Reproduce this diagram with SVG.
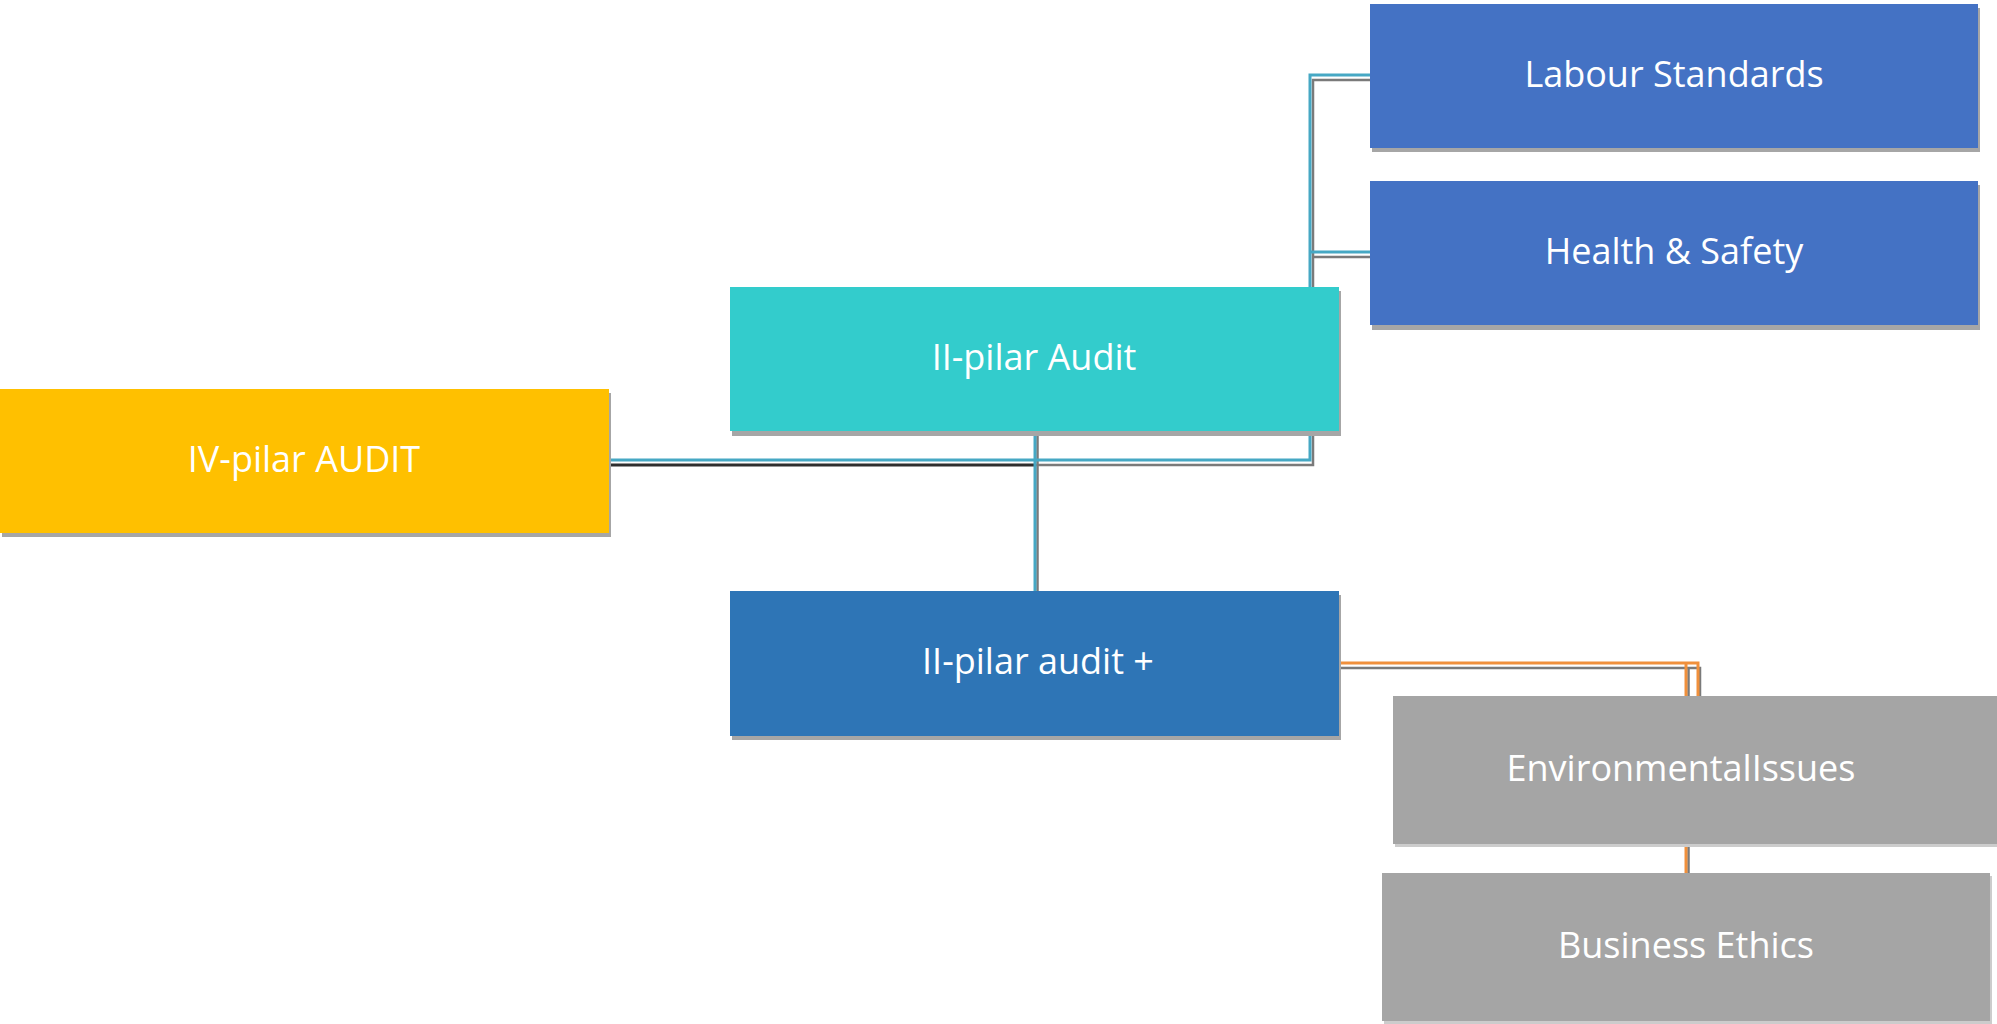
<svg xmlns="http://www.w3.org/2000/svg" width="1997" height="1024" viewBox="0 0 1997 1024">
<style>
.lbl{font-family:"Open Sans","Liberation Sans",sans-serif;font-size:36px;fill:#ffffff;text-anchor:middle}
.sh{fill:#a6a6a6}
.shg{fill:#cccccc}
.ln{fill:none;stroke-width:3}
.teal{stroke:#46a8c4}
.org{stroke:#f0903c}
.lsh{fill:none;stroke-width:2.5;stroke:#7a7a7a}
.lshd{fill:none;stroke-width:3;stroke:#2e2e2e}
</style>
<rect width="1997" height="1024" fill="#ffffff"/>
<g id="connectors">
  <!-- shadows -->
  <path class="lsh" d="M1035,465 H1313 V80 H1370 M1313,257 H1370"/>
  <path class="lshd" d="M609,465 H1036"/>
  <path class="lsh" d="M1037.5,434 V591"/>
  <path class="lsh" d="M1339,668 H1700 V696 M1688.5,668 V873"/>
  <!-- lines -->
  <path class="ln teal" d="M609,460 H1310 V75 H1370"/>
  <path class="ln teal" d="M1310,252 H1370"/>
  <path class="ln teal" d="M1035,431 V591"/>
  <path class="ln org" d="M1339,663 H1698 V696"/>
  <path class="ln org" d="M1686,663 V873"/>
</g>
<g id="labour">
  <rect class="sh" x="1372" y="8" width="608" height="144"/>
  <rect x="1370" y="4" width="608" height="144" fill="#4472c4"/>
  <text class="lbl" x="1674" y="87">Labour Standards</text>
</g>
<g id="health">
  <rect class="sh" x="1372" y="185" width="608" height="145"/>
  <rect x="1370" y="181" width="608" height="144" fill="#4472c4"/>
  <text class="lbl" x="1674" y="264">Health &amp; Safety</text>
</g>
<g id="ii-pilar-audit">
  <rect class="sh" x="732" y="291" width="609" height="145"/>
  <rect x="730" y="287" width="609" height="144" fill="#33cccc"/>
  <text class="lbl" x="1034" y="370">II-pilar Audit</text>
</g>
<g id="iv-pilar-audit">
  <rect class="sh" x="2" y="393" width="609" height="144"/>
  <rect x="0" y="389" width="609" height="144" fill="#ffc000"/>
  <text class="lbl" x="304" y="472">IV-pilar AUDIT</text>
</g>
<g id="ii-pilar-audit-plus">
  <rect class="sh" x="732" y="595" width="609" height="145"/>
  <rect x="730" y="591" width="609" height="145" fill="#2e75b6"/>
  <text class="lbl" x="1038" y="674">II-pilar audit +</text>
</g>
<g id="environmental">
  <rect class="shg" x="1395" y="699" width="608" height="148"/>
  <rect x="1393" y="696" width="608" height="148" fill="#a5a5a5"/>
  <text class="lbl" x="1681" y="781">EnvironmentalIssues</text>
</g>
<g id="business-ethics">
  <rect class="shg" x="1384" y="876" width="608" height="148"/>
  <rect x="1382" y="873" width="608" height="148" fill="#a5a5a5"/>
  <text class="lbl" x="1686" y="958">Business Ethics</text>
</g>
</svg>
